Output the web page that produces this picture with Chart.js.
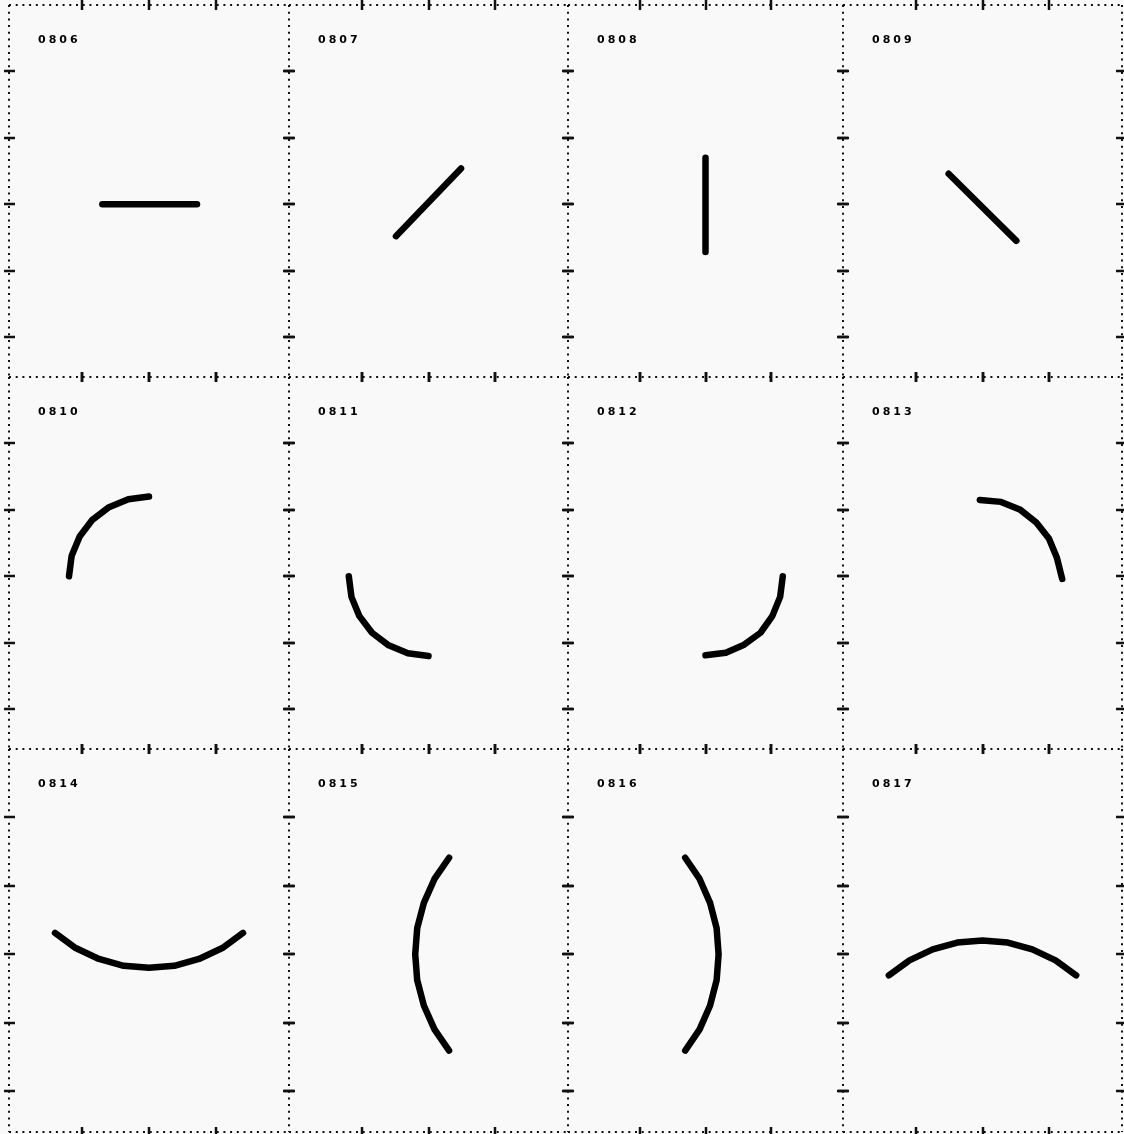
<!DOCTYPE html>
<html>
<head>
<meta charset="utf-8">
<script src="https://cdn.jsdelivr.net/npm/chart.js@4.4.0/dist/chart.umd.min.js"></script>
<style>
  body { margin: 0; background: #f9f9f9; }
  #wrap { position: relative; width: 1124px; height: 1134px; overflow: hidden; }
  #wrap canvas { position: absolute; }
</style>
</head>
<body>
<div id="wrap"></div>
<script>
const panelLabels = ['0806', '0807', '0808', '0809', '0810', '0811', '0812', '0813', '0814', '0815', '0816', '0817'];
const xTicks = [-1, 0, 1];
const yTicks = [2, 1, 0, -1, -2];
const xRange = [-2.1, 2.1];
const yRange = [-2.6, 3.0];

// strokes, [x, y] in panel units
const shape0806 = [[-0.7, 0], [0.72, 0]];
const shape0807 = [[-0.49, -0.48], [0.49, 0.54]];
const shape0808 = [[0, 0.7], [0, -0.72]];
const shape0809 = [[-0.51, 0.46], [0.51, -0.55]];
const shape0810 = [[-1.2, 0], [-1.16, 0.31], [-1.04, 0.6], [-0.85, 0.85], [-0.6, 1.04], [-0.31, 1.16], [0, 1.2]];
const shape0811 = [[-1.2, 0], [-1.16, -0.31], [-1.04, -0.6], [-0.85, -0.85], [-0.6, -1.04], [-0.31, -1.16], [0, -1.2]];
const shape0812 = [[1.18, 0], [1.14, -0.31], [1.02, -0.6], [0.84, -0.85], [0.59, -1.03], [0.31, -1.15], [0, -1.19]];
const shape0813 = [[-0.04, 1.15], [0.28, 1.12], [0.57, 1.0], [0.81, 0.81], [1.0, 0.57], [1.12, 0.28], [1.2, -0.04]];
const shape0814 = [[-1.41, 0.31], [-1.1, 0.09], [-0.75, -0.07], [-0.38, -0.17], [0, -0.2], [0.38, -0.17], [0.75, -0.07], [1.1, 0.09], [1.41, 0.31]];
const shape0815 = [[0.31, 1.41], [0.09, 1.1], [-0.07, 0.75], [-0.17, 0.38], [-0.2, 0], [-0.17, -0.38], [-0.07, -0.75], [0.09, -1.1], [0.31, -1.41]];
const shape0816 = [[-0.31, 1.41], [-0.09, 1.1], [0.07, 0.75], [0.17, 0.38], [0.2, 0], [0.17, -0.38], [0.07, -0.75], [-0.09, -1.1], [-0.31, -1.41]];
const shape0817 = [[-1.41, -0.31], [-1.1, -0.09], [-0.75, 0.07], [-0.38, 0.17], [0, 0.2], [0.38, 0.17], [0.75, 0.07], [1.1, -0.09], [1.41, -0.31]];

const shapes = [shape0806, shape0807, shape0808, shape0809, shape0810, shape0811,
  shape0812, shape0813, shape0814, shape0815, shape0816, shape0817];

// page layout (panel edges in px)
const colEdges = [9, 289, 568, 843, 1122];
const rowEdges = [5, 377, 749, 1132];
const pad = 10;

const framePlugin = {
  id: 'frame',
  beforeDatasetsDraw(chart) {
    const ctx = chart.ctx;
    const a = chart.chartArea;
    const xs = chart.scales.x, ys = chart.scales.y;
    const o = chart.options.plugins.frame;
    ctx.save();
    ctx.strokeStyle = '#111';
    ctx.lineWidth = 2;
    ctx.setLineDash([2, 4.7]);
    ctx.beginPath();
    // shared edges are drawn once: top + left always, right/bottom only at the outer border
    ctx.moveTo(a.left, a.top); ctx.lineTo(a.right, a.top);
    ctx.moveTo(a.left, a.top); ctx.lineTo(a.left, a.bottom);
    if (o.lastCol) { ctx.moveTo(a.right, a.top); ctx.lineTo(a.right, a.bottom); }
    if (o.lastRow) { ctx.moveTo(a.left, a.bottom); ctx.lineTo(a.right, a.bottom); }
    ctx.stroke();

    ctx.setLineDash([]);
    ctx.lineWidth = 2.5;
    ctx.beginPath();
    xTicks.forEach(v => {
      const px = Math.round(xs.getPixelForValue(v));
      ctx.moveTo(px, a.top - 5); ctx.lineTo(px, a.top + 5);
      ctx.moveTo(px, a.bottom - 5); ctx.lineTo(px, a.bottom + 5);
    });
    yTicks.forEach(v => {
      const py = Math.round(ys.getPixelForValue(v));
      ctx.moveTo(a.left - 5, py); ctx.lineTo(a.left + 6, py);
      ctx.moveTo(a.right - 6, py); ctx.lineTo(a.right + 5, py);
    });
    ctx.stroke();

    ctx.fillStyle = '#000';
    ctx.font = 'bold 11px "DejaVu Sans"';
    ctx.letterSpacing = '3px';
    ctx.textBaseline = 'alphabetic';
    ctx.fillText(o.label, a.left + 29, a.top + 38);
    ctx.restore();
  }
};

const wrap = document.getElementById('wrap');

shapes.forEach((pts, i) => {
  const col = i % 4, row = Math.floor(i / 4);
  const w = colEdges[col + 1] - colEdges[col];
  const h = rowEdges[row + 1] - rowEdges[row];
  const canvas = document.createElement('canvas');
  canvas.width = w + 2 * pad;
  canvas.height = h + 2 * pad;
  canvas.style.left = (colEdges[col] - pad) + 'px';
  canvas.style.top = (rowEdges[row] - pad) + 'px';
  wrap.appendChild(canvas);

  new Chart(canvas, {
    type: 'scatter',
    data: {
      datasets: [{
        data: pts.map(p => ({ x: p[0], y: p[1] })),
        showLine: true,
        borderColor: '#000',
        borderWidth: 6.5,
        borderCapStyle: 'round',
        borderJoinStyle: 'round',
        pointRadius: 0,
        tension: 0
      }]
    },
    options: {
      responsive: false,
      animation: false,
      events: [],
      layout: { padding: pad },
      scales: {
        x: { type: 'linear', display: false, min: xRange[0], max: xRange[1] },
        y: { type: 'linear', display: false, min: yRange[0], max: yRange[1] }
      },
      plugins: {
        legend: { display: false },
        tooltip: { enabled: false },
        frame: { label: panelLabels[i], lastCol: col === 3, lastRow: row === 2 }
      }
    },
    plugins: [framePlugin]
  });
});
</script>
</body>
</html>
